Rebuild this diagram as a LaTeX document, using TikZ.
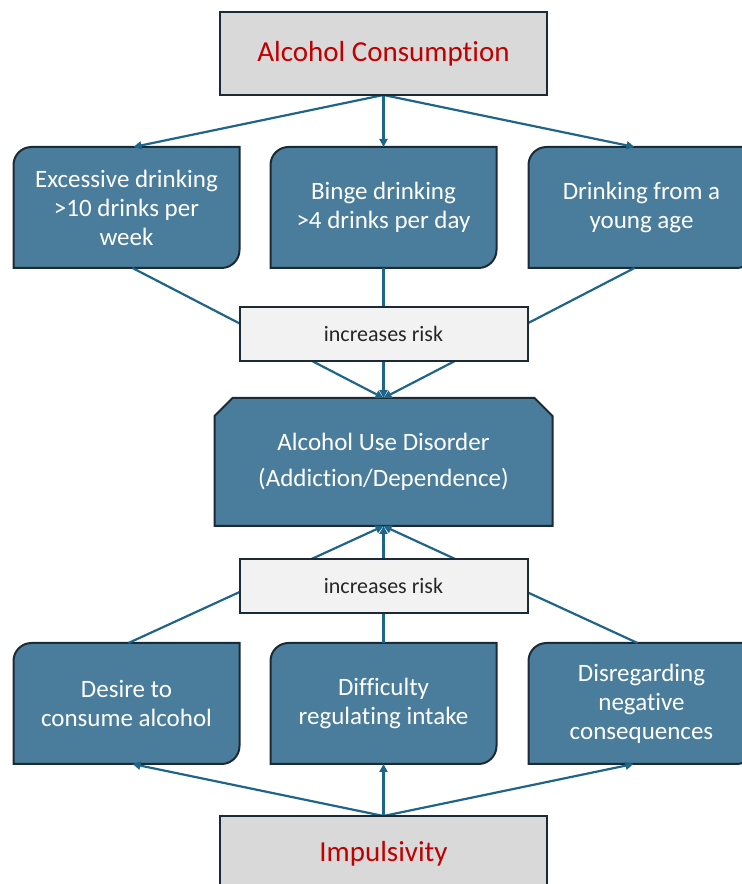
\documentclass[tikz,border=0pt]{standalone}
\usepackage{fontspec}
\setmainfont[Ligatures=NoCommon]{Carlito}
\usepackage{tikz}
\usetikzlibrary{arrows.meta,positioning,calc,backgrounds}
\definecolor{boxblue}{HTML}{4A7D9B}
\definecolor{edgedark}{HTML}{1C2A35}
\definecolor{linkblue}{HTML}{1F6587}
\definecolor{titlered}{HTML}{C00000}
\definecolor{softgray}{HTML}{D9D9D9}
\definecolor{palegray}{HTML}{F2F2F2}
% blue panel, round top-left and bottom-right corners
\newcommand{\diagshape}[1]{%
  \filldraw[panel] (#1.north east) -- ([yshift=18pt]#1.south east)
    arc[start angle=0,end angle=-90,radius=18pt] -- (#1.south west)
    -- ([yshift=-18pt]#1.north west)
    arc[start angle=180,end angle=90,radius=18pt] -- cycle;}
% blue panel, top corners snipped
\newcommand{\snipshape}[1]{%
  \filldraw[panel] ([xshift=18pt]#1.north west) -- ([xshift=-18pt]#1.north east)
    -- ([yshift=-18pt]#1.north east) -- (#1.south east) -- (#1.south west)
    -- ([yshift=-18pt]#1.north west) -- cycle;}

\begin{document}
\begin{tikzpicture}[x=1pt,y=1pt,
  node distance=31pt,
  txt/.style={align=center,font=\fontsize{25}{29}\selectfont,text=white,
              inner sep=0pt,outer sep=0pt},
  factor/.style={txt,minimum width=226pt,minimum height=121pt},
  source/.style={draw=edgedark,line width=2pt,fill=softgray,minimum width=327pt,
                 minimum height=83pt,font=\fontsize{29}{34}\selectfont,
                 text=titlered,outer sep=0pt},
  risk/.style={draw=edgedark,line width=2pt,fill=palegray,minimum width=288pt,
               minimum height=54pt,font=\fontsize{22}{26}\selectfont,
               text=black!85,outer sep=0pt},
  panel/.style={fill=boxblue,draw=edgedark,line width=2pt},
  ar/.style={-{Triangle[length=8pt,width=8pt]},line width=2.2pt,linkblue}
]
\useasboundingbox (0,0) rectangle (742,884);
\node[source] (cons) at (383.5,830.5) {Alcohol Consumption};
\node[factor,below=52pt of cons] (binge) {Binge drinking\\>4 drinks per day};
\node[factor,left=31pt of binge] (excess) {Excessive drinking\\>10 drinks per\\week};
\node[factor,right=32pt of binge] (young) {Drinking from a\\young age};
\node[risk,below=39pt of binge] (riskA) {increases risk};
\node[txt,font=\fontsize{25}{36}\selectfont,minimum width=338pt,minimum height=128pt,
      below=37pt of riskA] (aud) {Alcohol Use Disorder\\(Addiction/Dependence)};
\node[risk,below=33pt of aud] (riskB) {increases risk};
\node[factor,below=30pt of riskB] (hard) {Difficulty\\regulating intake};
\node[factor,left=31pt of hard] (desire) {Desire to\\consume alcohol};
\node[factor,right=32pt of hard] (ignore) {Disregarding\\negative\\consequences};
\node[source,minimum height=76pt,below=52pt of hard] (imp) {Impulsivity};

\begin{scope}[on background layer]
\diagshape{excess} \diagshape{binge} \diagshape{young}
\snipshape{aud}
\diagshape{desire} \diagshape{hard} \diagshape{ignore}
\draw[ar] (cons.south) -- ([xshift=7pt]excess.north);
\draw[ar] (cons.south) -- (binge.north);
\draw[ar] (cons.south) -- ([xshift=-7pt]young.north);
\draw[ar] ([xshift=6pt]excess.south) -- (aud.north);
\draw[ar] (binge.south) -- (aud.north);
\draw[ar] ([xshift=-7pt]young.south) -- (aud.north);
\draw[ar] ([xshift=2pt]desire.north) -- (aud.south);
\draw[ar] (hard.north) -- (aud.south);
\draw[ar] ([xshift=-4pt]ignore.north) -- (aud.south);
\draw[ar] (imp.north) -- ([xshift=6pt]desire.south);
\draw[ar] (imp.north) -- (hard.south);
\draw[ar] (imp.north) -- ([xshift=-8pt]ignore.south);
\end{scope}
\end{tikzpicture}
\end{document}
